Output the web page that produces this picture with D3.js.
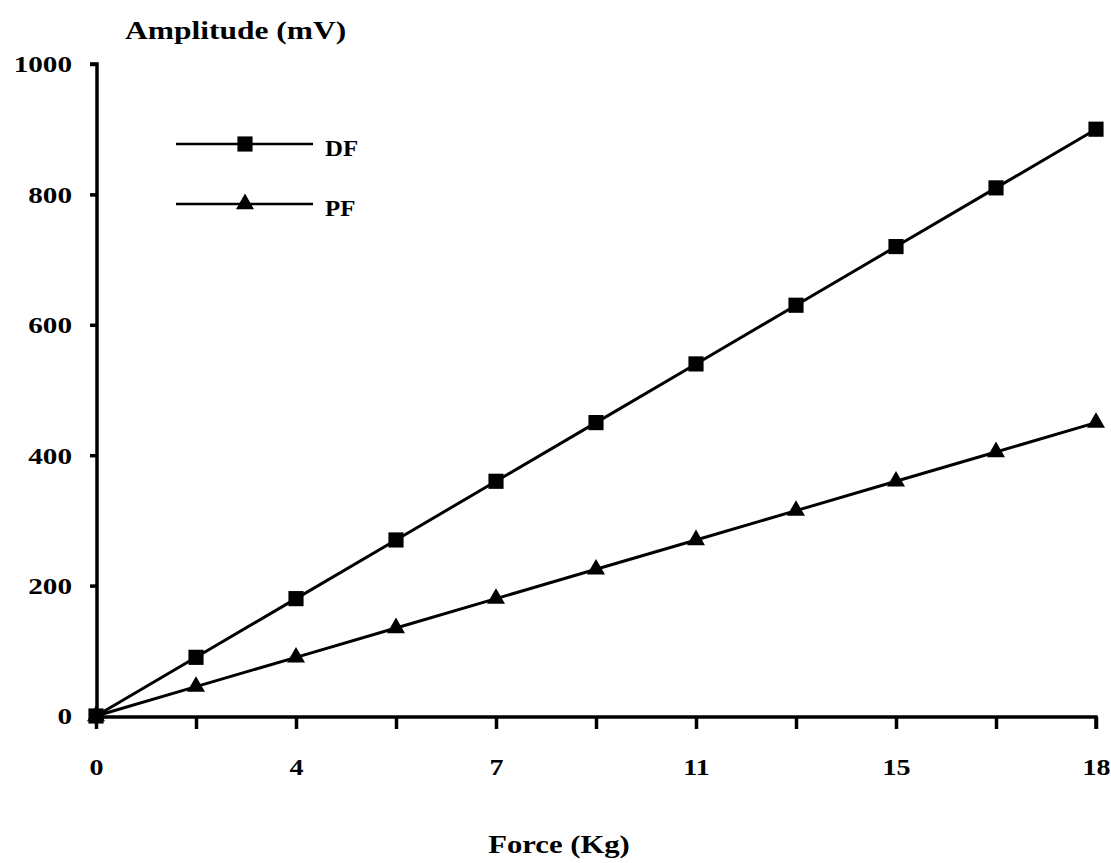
<!DOCTYPE html>
<html><head><meta charset="utf-8">
<script src="https://cdn.jsdelivr.net/npm/d3@7"></script>
<style>body{margin:0;background:#fff}svg{display:block}text{font-family:"Liberation Serif","Times New Roman",serif;font-weight:bold;fill:#000}</style>
</head><body><svg id="c" width="1111" height="863"></svg>
<script>
const forces = ["0","1.8","3.6","5.4","7.2","9","10.8","12.6","14.4","16.2","18"];
const xTickLabels = ["0","","4","","7","","11","","15","","18"];
const dfValues = [0,90,180,270,360,450,540,630,720,810,900];
const pfValues = [0,45,90,135,180,225,270,315,360,405,450];
const yTicks = [0,200,400,600,800,1000];
const seriesNames = ["DF","PF"];

const svg = d3.select("#c");
const x = d3.scalePoint().domain(forces).range([96,1096]);
const y = d3.scaleLinear().domain([0,1000]).range([716,64]);

// stretch text horizontally around its anchor
function stretch(sel, s){
  sel.each(function(){
    const t = d3.select(this);
    const tx = +t.attr("x")||0, ty = +t.attr("y")||0;
    t.attr("x",0).attr("y",0).attr("transform",`translate(${tx},${ty}) scale(${s},1)`);
  });
}

// y axis
const yAxis = svg.append("g").attr("transform","translate(97,0)")
  .call(d3.axisLeft(y).tickValues(yTicks).tickSize(7).tickPadding(18).tickFormat(d3.format("d")));
yAxis.select(".domain").attr("stroke","#000").attr("stroke-width",3.5).attr("d","M-7,64H0V717");
yAxis.selectAll(".tick line").attr("stroke","#000").attr("stroke-width",3.5);
yAxis.selectAll(".tick text").style("font-size","23px").attr("dy","0.34em");
stretch(yAxis.selectAll(".tick text"),1.27);

// x axis
const xAxis = svg.append("g").attr("transform","translate(0,717)")
  .call(d3.axisBottom(x).tickSize(12).tickPadding(30).tickFormat((d,i)=>xTickLabels[i]));
xAxis.select(".domain").attr("stroke","#000").attr("stroke-width",3.5).attr("d","M96,0H1096V12");
xAxis.selectAll(".tick line").attr("stroke","#000").attr("stroke-width",3.5);
xAxis.selectAll(".tick text").style("font-size","23px");
stretch(xAxis.selectAll(".tick text"),1.22);

const title = svg.append("text").attr("x",125).attr("y",39).style("font-size","25px").text("Amplitude (mV)");
stretch(title,1.26);
const xl = svg.append("text").attr("x",559).attr("y",853).attr("text-anchor","middle").style("font-size","26px").text("Force (Kg)");
stretch(xl,1.18);

const line = d3.line().x((d,i)=>x(forces[i])).y(d=>y(d));
const sq = d3.symbol().type(d3.symbolSquare).size(230);
const tri = d3.symbol().type(d3.symbolTriangle).size(140);

function drawSeries(vals, sym){
  svg.append("path").datum(vals).attr("d",line).attr("fill","none").attr("stroke","#000").attr("stroke-width",3);
  svg.selectAll(null).data(vals).enter().append("path")
    .attr("d",sym).attr("fill","#000")
    .attr("transform",(d,i)=>`translate(${x(forces[i])},${y(d)})`);
}
drawSeries(dfValues, sq);
drawSeries(pfValues, tri);

// legend
const leg = [{name:seriesNames[0],sym:sq,y:144},{name:seriesNames[1],sym:tri,y:204}];
leg.forEach(l=>{
  svg.append("line").attr("x1",176).attr("x2",313).attr("y1",l.y).attr("y2",l.y).attr("stroke","#000").attr("stroke-width",2.5);
  svg.append("path").attr("d",l.sym).attr("fill","#000").attr("transform",`translate(245,${l.y})`);
  const t = svg.append("text").attr("x",325).attr("y",l.y+12).style("font-size","23px").text(l.name);
  stretch(t,1.08);
});
</script></body></html>
